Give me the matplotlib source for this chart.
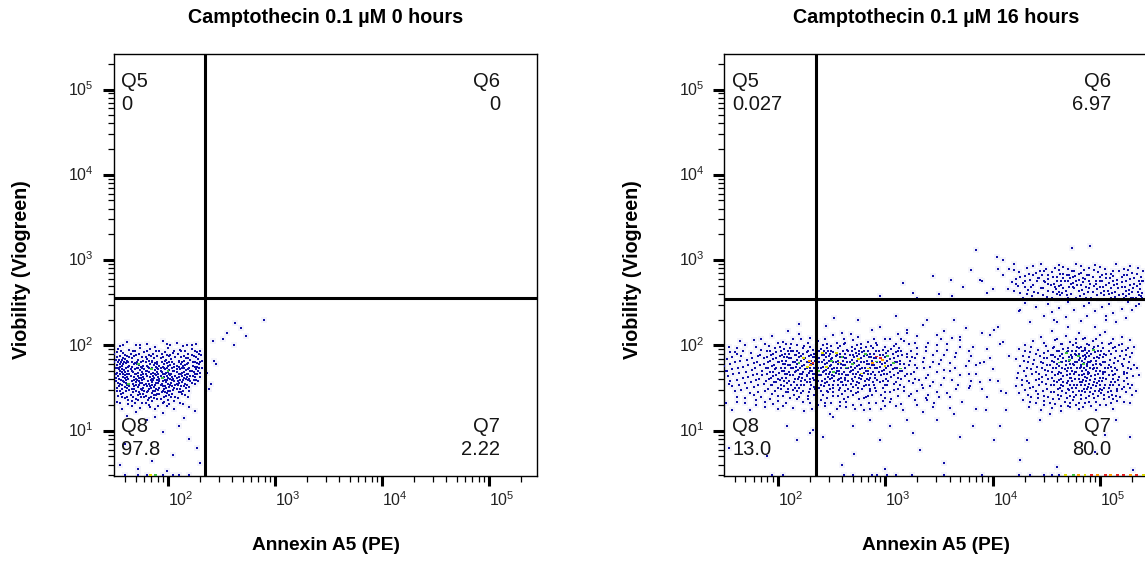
import numpy as np
import matplotlib
matplotlib.use("Agg")
import matplotlib.pyplot as plt
from matplotlib.ticker import FixedLocator, LogLocator, NullFormatter

# ---------------- data (log10 fluorescence intensities) ----------------
titles = ["Camptothecin 0.1 \u00b5M 0 hours", "Camptothecin 0.1 \u00b5M 16 hours"]
x_label = "Annexin A5 (PE)"
y_label = "Viobility (Viogreen)"
quad_names = ["Q5", "Q6", "Q7", "Q8"]
pct_0h = ["0", "0", "2.22", "97.8"]
pct_16h = ["0.027", "6.97", "80.0", "13.0"]
gate_x = [220, 228]          # Annexin A5 gate (0 h, 16 h)
gate_y = [364, 348]          # Viogreen gate (0 h, 16 h)

# 0 hours: (log10 Annexin, log10 Viogreen)
cells_0h = [
 (1.62,2.04),(1.80,2.02),(1.95,2.05),(2.08,2.03),(2.18,2.01),
 (1.55,1.99),(1.70,2.01),(1.88,1.98),(2.02,2.00),(2.14,1.99),(2.26,2.02),
 (1.53,1.96),(1.64,1.95),(1.74,1.97),(1.83,1.96),(1.92,1.94),(2.00,1.97),(2.11,1.95),(2.22,1.96),(2.30,1.94),
 (1.52,1.92),(1.58,1.91),(1.67,1.93),(1.78,1.92),(1.86,1.90),(1.97,1.92),(2.05,1.91),(2.12,1.93),(2.19,1.90),(2.27,1.92),
 (1.55,1.88),(1.62,1.87),(1.70,1.89),(1.76,1.86),(1.84,1.88),(1.90,1.87),(1.99,1.89),(2.07,1.86),(2.15,1.88),(2.24,1.87),(2.31,1.89),
 (1.51,1.83),(1.54,1.83),(1.57,1.83),(1.60,1.84),(1.66,1.85),(1.72,1.83),(1.80,1.84),(1.85,1.82),(1.93,1.85),(1.98,1.83),(2.03,1.84),(2.10,1.82),(2.17,1.85),(2.21,1.83),(2.28,1.84),
 (1.50,1.81),(1.53,1.80),(1.56,1.81),(1.59,1.80),(1.63,1.81),(1.69,1.79),(1.75,1.81),(1.79,1.80),(1.88,1.79),(1.94,1.81),(2.01,1.80),(2.06,1.78),(2.13,1.81),(2.19,1.79),(2.25,1.80),(2.30,1.81),
 (1.52,1.77),(1.58,1.78),(1.64,1.76),(1.68,1.78),(1.73,1.77),(1.77,1.76),(1.83,1.78),(1.87,1.77),(1.92,1.76),(1.96,1.78),(2.02,1.77),(2.08,1.76),(2.12,1.78),(2.16,1.77),(2.23,1.76),(2.29,1.78),
 (1.51,1.74),(1.55,1.75),(1.61,1.73),(1.66,1.75),(1.71,1.74),(1.76,1.73),(1.81,1.75),(1.85,1.74),(1.90,1.73),(1.95,1.75),(1.99,1.74),(2.04,1.73),(2.10,1.75),(2.15,1.74),(2.20,1.73),(2.27,1.75),(2.32,1.74),
 (1.54,1.72),(1.59,1.71),(1.63,1.70),(1.69,1.72),(1.74,1.71),(1.79,1.70),(1.84,1.72),(1.88,1.71),(1.93,1.70),(1.97,1.72),(2.01,1.71),(2.06,1.70),(2.11,1.72),(2.17,1.71),(2.22,1.70),(2.26,1.72),
 (1.52,1.68),(1.57,1.69),(1.62,1.67),(1.67,1.69),(1.72,1.68),(1.77,1.67),(1.82,1.69),(1.86,1.68),(1.91,1.67),(1.94,1.69),(1.98,1.68),(2.03,1.67),(2.08,1.69),(2.13,1.68),(2.18,1.67),(2.24,1.69),(2.30,1.68),
 (1.55,1.66),(1.60,1.65),(1.65,1.64),(1.70,1.66),(1.75,1.65),(1.80,1.64),(1.84,1.66),(1.89,1.65),(1.93,1.64),(1.97,1.66),(2.02,1.65),(2.07,1.64),(2.12,1.66),(2.16,1.65),(2.21,1.64),(2.27,1.66),
 (1.51,1.62),(1.58,1.63),(1.63,1.61),(1.68,1.63),(1.73,1.62),(1.78,1.61),(1.83,1.63),(1.87,1.62),(1.92,1.61),(1.96,1.63),(2.00,1.62),(2.05,1.61),(2.10,1.63),(2.15,1.62),(2.20,1.61),(2.25,1.63),
 (1.56,1.59),(1.61,1.60),(1.66,1.58),(1.71,1.60),(1.76,1.59),(1.81,1.58),(1.86,1.60),(1.90,1.59),(1.95,1.58),(1.99,1.60),(2.04,1.59),(2.09,1.58),(2.14,1.60),(2.19,1.59),(2.28,1.58),
 (1.53,1.56),(1.59,1.57),(1.64,1.55),(1.70,1.57),(1.74,1.56),(1.79,1.55),(1.85,1.57),(1.89,1.56),(1.94,1.55),(1.98,1.57),(2.03,1.56),(2.08,1.55),(2.13,1.57),(2.22,1.56),
 (1.57,1.53),(1.62,1.54),(1.68,1.52),(1.73,1.54),(1.78,1.53),(1.83,1.52),(1.88,1.54),(1.93,1.53),(1.97,1.52),(2.02,1.54),(2.07,1.53),(2.12,1.52),(2.18,1.54),
 (1.52,1.50),(1.60,1.51),(1.66,1.49),(1.72,1.51),(1.77,1.50),(1.82,1.49),(1.87,1.51),(1.92,1.50),(1.96,1.49),(2.01,1.51),(2.06,1.50),(2.11,1.49),(2.20,1.51),
 (1.55,1.47),(1.64,1.48),(1.70,1.46),(1.76,1.48),(1.81,1.47),(1.86,1.46),(1.91,1.48),(1.95,1.47),(2.00,1.46),(2.05,1.48),(2.14,1.47),
 (1.58,1.44),(1.67,1.45),(1.74,1.43),(1.80,1.45),(1.85,1.44),(1.90,1.43),(1.94,1.45),(1.99,1.44),(2.04,1.43),(2.10,1.45),
 (1.53,1.41),(1.62,1.40),(1.72,1.42),(1.79,1.41),(1.84,1.40),(1.89,1.42),(1.98,1.41),(2.07,1.40),(2.16,1.42),
 (1.60,1.38),(1.70,1.37),(1.78,1.39),(1.87,1.38),(1.93,1.37),(2.03,1.39),
 (1.52,1.34),(1.66,1.35),(1.76,1.33),(1.85,1.35),(1.96,1.34),(2.11,1.33),
 (1.63,1.31),(1.82,1.30),(1.91,1.29),(2.01,1.31),
 (1.57,1.26),(1.74,1.27),(1.88,1.25),(2.06,1.26),
 (1.70,1.22),(1.95,1.21),(2.25,1.23),
]
cells_0h_b = [
 (1.58,2.01),(1.74,2.00),(1.99,2.02),(2.22,2.00),
 (1.56,1.94),(1.69,1.93),(1.80,1.94),(1.89,1.93),(2.06,1.94),(2.16,1.93),(2.25,1.94),
 (1.50,1.90),(1.60,1.89),(1.65,1.90),(1.73,1.90),(1.82,1.89),(1.94,1.90),(2.02,1.89),(2.09,1.90),(2.22,1.89),(2.29,1.90),
 (1.52,1.86),(1.58,1.85),(1.64,1.86),(1.68,1.87),(1.79,1.86),(1.87,1.85),(1.95,1.86),(2.01,1.87),(2.12,1.86),(2.19,1.85),(2.26,1.86),
 (1.62,1.82),(1.71,1.81),(1.77,1.82),(1.82,1.82),(1.90,1.81),(1.97,1.82),(2.04,1.81),(2.15,1.82),(2.23,1.81),(2.32,1.82),
 (1.55,1.78),(1.61,1.79),(1.66,1.80),(1.71,1.78),(1.85,1.80),(1.90,1.78),(1.99,1.79),(2.10,1.80),(2.18,1.78),(2.27,1.79),
 (1.57,1.76),(1.63,1.75),(1.75,1.75),(1.80,1.76),(1.89,1.75),(1.93,1.74),(2.00,1.76),(2.06,1.75),(2.14,1.76),(2.25,1.75),
 (1.53,1.73),(1.57,1.72),(1.65,1.72),(1.72,1.73),(1.78,1.72),(1.82,1.73),(1.91,1.72),(1.96,1.73),(2.08,1.72),(2.13,1.73),(2.19,1.72),(2.29,1.73),
 (1.55,1.70),(1.60,1.69),(1.66,1.70),(1.76,1.69),(1.80,1.70),(1.90,1.69),(2.00,1.69),(2.05,1.70),(2.15,1.69),(2.21,1.70),(2.28,1.70),
 (1.51,1.66),(1.58,1.67),(1.64,1.66),(1.69,1.67),(1.79,1.66),(1.88,1.67),(1.95,1.66),(2.01,1.67),(2.10,1.66),(2.19,1.67),(2.25,1.66),
 (1.53,1.64),(1.62,1.63),(1.72,1.64),(1.77,1.63),(1.86,1.64),(1.91,1.63),(1.99,1.64),(2.04,1.63),(2.13,1.64),(2.18,1.63),(2.23,1.64),(2.30,1.63),
 (1.54,1.61),(1.60,1.62),(1.70,1.61),(1.75,1.62),(1.85,1.61),(1.94,1.62),(2.02,1.61),(2.08,1.62),(2.17,1.61),(2.24,1.60),
 (1.51,1.58),(1.58,1.58),(1.68,1.59),(1.73,1.58),(1.84,1.59),(1.92,1.58),(1.97,1.59),(2.06,1.58),(2.11,1.59),(2.21,1.58),(2.26,1.59),
 (1.55,1.55),(1.61,1.56),(1.67,1.55),(1.76,1.56),(1.82,1.55),(1.91,1.56),(2.00,1.55),(2.10,1.56),(2.16,1.55),(2.25,1.55),
 (1.54,1.52),(1.64,1.52),(1.70,1.53),(1.80,1.52),(1.85,1.53),(1.95,1.52),(2.04,1.52),(2.09,1.53),(2.15,1.52),
 (1.57,1.49),(1.62,1.50),(1.68,1.49),(1.75,1.49),(1.84,1.50),(1.89,1.49),(1.98,1.50),(2.08,1.49),(2.17,1.50),
 (1.52,1.46),(1.61,1.46),(1.73,1.45),(1.78,1.46),(1.88,1.46),(1.97,1.45),(2.02,1.46),(2.12,1.45),(2.20,1.46),
 (1.56,1.43),(1.65,1.42),(1.77,1.43),(1.87,1.42),(1.92,1.43),(2.01,1.42),(2.13,1.43),
 (1.57,1.39),(1.67,1.40),(1.75,1.39),(1.82,1.38),(1.96,1.39),(2.09,1.38),(2.19,1.40),
 (1.63,1.36),(1.72,1.36),(1.81,1.36),(1.90,1.37),(2.00,1.36),(2.06,1.35),
 (1.55,1.32),(1.69,1.32),(1.79,1.33),(1.95,1.32),(2.14,1.31),
 (1.66,1.29),(1.83,1.28),(1.99,1.29),(2.20,1.28),
 (1.62,1.17),(1.88,1.16),(2.15,1.15),
]
tail_0h = [(2.63,2.26),(2.90,2.30),(2.73,2.11),(2.51,2.07),(2.62,2.00),(2.43,1.82),(2.40,1.55),
           (2.38,1.49),(2.45,1.78),(2.42,2.05),(2.36,1.68),(2.55,2.15),(2.68,2.20)]
sparse_0h = [(1.80,1.12),(2.10,1.05),(1.95,0.98),(2.20,0.90),(2.27,0.80),(1.60,0.85),(2.05,0.72),
             (1.85,0.65),(2.30,0.62),(1.55,0.60),(1.72,0.55),(1.99,0.53)]
floor_0h = [(1.60,0.48),(1.72,0.48),(1.80,0.48),(1.95,0.48),(2.05,0.48),(2.10,0.48),(2.20,0.48)]
hot_0h = [(1.63,1.55,1),(1.85,1.72,1),(1.95,1.62,1),(1.72,1.78,1),(2.00,1.70,1),(1.84,0.48,2),(1.88,0.48,1)]

# 16 hours
band_16h = [
 (2.45,2.23),(2.95,2.21),(3.35,2.24),(3.75,2.20),(4.05,2.22),
 (2.10,2.17),(2.60,2.15),(2.88,2.18),(3.20,2.14),(3.55,2.17),(3.90,2.15),
 (1.95,2.11),(2.30,2.09),(2.52,2.12),(2.75,2.10),(3.05,2.08),(3.30,2.11),(3.62,2.09),(3.98,2.12),
 (1.78,2.06),(2.05,2.04),(2.22,2.07),(2.38,2.05),(2.55,2.03),(2.70,2.06),(2.84,2.04),(3.00,2.07),(3.18,2.05),(3.40,2.03),(3.70,2.06),(4.10,2.04),
 (1.70,2.01),(1.92,1.99),(2.08,2.02),(2.18,2.00),(2.30,1.98),(2.42,2.01),(2.50,1.99),(2.62,2.02),(2.74,2.00),(2.82,1.98),(2.93,2.01),(3.08,1.99),(3.22,2.02),(3.48,2.00),(3.82,1.98),
 (1.62,1.97),(1.85,1.95),(1.98,1.97),(2.06,1.96),(2.14,1.94),(2.24,1.97),(2.33,1.95),(2.40,1.96),(2.47,1.94),(2.56,1.97),(2.65,1.95),(2.72,1.96),(2.80,1.94),(2.89,1.97),(2.98,1.95),(3.06,1.96),(3.15,1.94),(3.30,1.97),(3.58,1.95),(3.95,1.96),
 (1.56,1.92),(1.75,1.91),(1.90,1.93),(1.99,1.92),(2.07,1.90),(2.13,1.93),(2.20,1.91),(2.27,1.92),(2.34,1.90),(2.39,1.93),(2.45,1.91),(2.52,1.92),(2.58,1.90),(2.66,1.93),(2.73,1.91),(2.79,1.92),(2.86,1.90),(2.92,1.93),(3.01,1.91),(3.10,1.92),(3.20,1.90),(3.38,1.93),(3.66,1.91),
 (1.66,1.88),(1.82,1.87),(1.94,1.89),(2.02,1.88),(2.09,1.86),(2.16,1.89),(2.22,1.87),(2.29,1.88),(2.35,1.86),(2.41,1.89),(2.48,1.87),(2.54,1.88),(2.61,1.86),(2.67,1.89),(2.74,1.87),(2.80,1.88),(2.87,1.86),(2.95,1.89),(3.03,1.87),(3.12,1.88),(3.25,1.86),(3.45,1.89),(3.80,1.87),(4.15,1.88),
 (1.53,1.84),(1.72,1.83),(1.87,1.85),(1.96,1.84),(2.04,1.82),(2.11,1.85),(2.18,1.83),(2.25,1.84),(2.31,1.82),(2.37,1.85),(2.43,1.83),(2.50,1.84),(2.56,1.82),(2.63,1.85),(2.69,1.83),(2.76,1.84),(2.83,1.82),(2.90,1.85),(2.97,1.83),(3.05,1.84),(3.14,1.82),(3.28,1.85),(3.52,1.83),
 (1.60,1.80),(1.78,1.79),(1.91,1.81),(2.00,1.80),(2.07,1.78),(2.14,1.81),(2.20,1.79),(2.27,1.80),(2.33,1.78),(2.39,1.81),(2.46,1.79),(2.52,1.80),(2.59,1.78),(2.65,1.81),(2.71,1.79),(2.78,1.80),(2.85,1.78),(2.93,1.81),(3.00,1.79),(3.09,1.80),(3.18,1.78),(3.35,1.81),(3.60,1.79),(3.92,1.80),
 (1.50,1.76),(1.68,1.75),(1.84,1.77),(1.95,1.76),(2.03,1.74),(2.10,1.77),(2.17,1.75),(2.23,1.76),(2.30,1.74),(2.36,1.77),(2.42,1.75),(2.49,1.76),(2.55,1.74),(2.61,1.77),(2.68,1.75),(2.74,1.76),(2.81,1.74),(2.88,1.77),(2.95,1.75),(3.03,1.76),(3.11,1.74),(3.22,1.77),(3.42,1.75),(3.75,1.76),
 (1.58,1.72),(1.76,1.71),(1.89,1.73),(1.98,1.72),(2.06,1.70),(2.13,1.73),(2.19,1.71),(2.26,1.72),(2.32,1.70),(2.38,1.73),(2.45,1.71),(2.51,1.72),(2.57,1.70),(2.64,1.73),(2.70,1.71),(2.77,1.72),(2.84,1.70),(2.91,1.73),(2.99,1.71),(3.07,1.72),(3.16,1.70),(3.30,1.73),(3.55,1.71),(4.00,1.72),
 (1.64,1.68),(1.81,1.67),(1.93,1.69),(2.01,1.68),(2.09,1.66),(2.16,1.69),(2.23,1.67),(2.29,1.68),(2.35,1.66),(2.42,1.69),(2.48,1.67),(2.54,1.68),(2.60,1.66),(2.67,1.69),(2.73,1.67),(2.80,1.68),(2.87,1.66),(2.94,1.69),(3.02,1.67),(3.12,1.68),(3.24,1.66),(3.48,1.69),(3.85,1.67),
 (1.54,1.64),(1.73,1.63),(1.86,1.65),(1.96,1.64),(2.04,1.62),(2.12,1.65),(2.20,1.63),(2.27,1.64),(2.33,1.62),(2.40,1.65),(2.47,1.63),(2.53,1.64),(2.59,1.62),(2.66,1.65),(2.72,1.63),(2.79,1.64),(2.86,1.62),(2.96,1.65),(3.06,1.63),(3.19,1.64),(3.38,1.62),(3.70,1.65),
 (1.62,1.60),(1.80,1.59),(1.92,1.61),(2.02,1.60),(2.11,1.58),(2.19,1.61),(2.26,1.59),(2.34,1.60),(2.41,1.58),(2.49,1.61),(2.56,1.59),(2.63,1.60),(2.70,1.58),(2.78,1.61),(2.85,1.59),(2.93,1.60),(3.03,1.58),(3.15,1.61),(3.32,1.59),(3.62,1.60),(4.05,1.58),
 (1.70,1.56),(1.87,1.55),(1.99,1.57),(2.09,1.56),(2.18,1.54),(2.27,1.57),(2.36,1.55),(2.44,1.56),(2.52,1.54),(2.60,1.57),(2.68,1.55),(2.76,1.56),(2.85,1.54),(2.95,1.57),(3.08,1.55),(3.26,1.56),(3.52,1.54),(3.88,1.57),
 (1.58,1.52),(1.78,1.51),(1.95,1.53),(2.06,1.52),(2.16,1.50),(2.25,1.53),(2.34,1.51),(2.43,1.52),(2.52,1.50),(2.61,1.53),(2.70,1.51),(2.80,1.52),(2.91,1.50),(3.02,1.53),(3.18,1.51),(3.42,1.52),(3.78,1.50),
 (1.66,1.48),(1.88,1.47),(2.03,1.49),(2.14,1.48),(2.24,1.46),(2.35,1.49),(2.46,1.47),(2.57,1.48),(2.68,1.46),(2.79,1.49),(2.92,1.47),(3.08,1.48),(3.30,1.46),(3.66,1.49),(4.08,1.47),
 (1.74,1.44),(1.95,1.43),(2.10,1.45),(2.22,1.44),(2.34,1.42),(2.47,1.45),(2.60,1.43),(2.73,1.44),(2.88,1.42),(3.05,1.45),(3.24,1.43),(3.58,1.44),
 (1.62,1.40),(1.85,1.39),(2.05,1.41),(2.20,1.40),(2.36,1.38),(2.52,1.41),(2.66,1.39),(2.82,1.40),(3.00,1.38),(3.22,1.41),(3.50,1.39),(3.95,1.40),
 (1.80,1.36),(2.00,1.35),(2.18,1.37),(2.40,1.36),(2.58,1.34),(2.76,1.37),(2.98,1.35),(3.28,1.36),(3.72,1.34),
 (1.70,1.32),(1.96,1.31),(2.30,1.33),(2.50,1.32),(2.70,1.30),(2.92,1.33),(3.15,1.31),(3.46,1.32),
 (1.88,1.28),(2.14,1.27),(2.44,1.29),(2.64,1.28),(2.86,1.26),(3.10,1.29),(3.60,1.27),
 (1.58,1.24),(2.25,1.23),(2.55,1.25),(2.80,1.24),(3.35,1.22),(3.85,1.25),
]
band_16h_b = [
 (2.20,2.13),(2.68,2.13),(3.12,2.13),(3.48,2.12),
 (1.85,2.08),(2.14,2.07),(2.44,2.08),(2.62,2.07),(2.90,2.08),(3.15,2.08),(3.52,2.07),
 (1.88,2.02),(2.00,2.03),(2.13,2.02),(2.28,2.03),(2.46,2.02),(2.63,2.03),(2.78,2.02),(2.92,2.03),(3.10,2.02),(3.28,2.03),(3.58,2.02),
 (1.55,1.98),(1.80,1.98),(2.02,1.98),(2.12,1.97),(2.25,1.99),(2.36,1.98),(2.46,1.97),(2.58,1.99),(2.69,1.98),(2.78,1.97),(2.87,1.99),(3.00,1.98),(3.13,1.97),(3.38,1.98),(3.70,1.98),
 (1.68,1.94),(1.93,1.94),(2.03,1.93),(2.10,1.94),(2.18,1.93),(2.28,1.94),(2.36,1.93),(2.43,1.94),(2.50,1.93),(2.61,1.94),(2.69,1.93),(2.76,1.94),(2.84,1.93),(2.94,1.94),(3.03,1.93),(3.12,1.94),(3.24,1.93),(3.48,1.94),(3.78,1.93),
 (1.62,1.90),(1.84,1.89),(1.96,1.90),(2.04,1.89),(2.11,1.90),(2.17,1.89),(2.24,1.90),(2.31,1.89),(2.37,1.90),(2.43,1.89),(2.49,1.90),(2.55,1.89),(2.63,1.90),(2.70,1.89),(2.76,1.90),(2.83,1.89),(2.90,1.90),(2.98,1.89),(3.07,1.90),(3.16,1.89),(3.30,1.90),(3.55,1.89),
 (1.58,1.86),(1.76,1.85),(1.90,1.86),(1.99,1.85),(2.06,1.86),(2.13,1.85),(2.20,1.86),(2.26,1.85),(2.33,1.86),(2.39,1.85),(2.45,1.86),(2.51,1.85),(2.58,1.86),(2.64,1.85),(2.71,1.86),(2.78,1.85),(2.85,1.86),(2.92,1.85),(3.00,1.86),(3.08,1.85),(3.20,1.86),(3.36,1.85),(3.65,1.86),(3.98,1.85),
 (1.65,1.82),(1.81,1.81),(1.93,1.82),(2.01,1.81),(2.08,1.82),(2.16,1.81),(2.22,1.82),(2.29,1.81),(2.35,1.82),(2.41,1.81),(2.48,1.82),(2.54,1.81),(2.61,1.82),(2.67,1.81),(2.74,1.82),(2.80,1.81),(2.88,1.82),(2.95,1.81),(3.02,1.82),(3.11,1.81),(3.23,1.82),(3.45,1.81),(3.78,1.82),
 (1.56,1.78),(1.73,1.77),(1.87,1.78),(1.97,1.77),(2.05,1.78),(2.12,1.77),(2.18,1.78),(2.25,1.77),(2.31,1.78),(2.37,1.77),(2.44,1.78),(2.50,1.77),(2.56,1.78),(2.63,1.77),(2.69,1.78),(2.76,1.77),(2.83,1.78),(2.90,1.77),(2.97,1.78),(3.06,1.77),(3.14,1.78),(3.28,1.77),(3.50,1.78),(3.85,1.77),
 (1.63,1.74),(1.79,1.73),(1.91,1.74),(1.99,1.73),(2.07,1.74),(2.14,1.73),(2.21,1.74),(2.27,1.73),(2.34,1.74),(2.40,1.73),(2.47,1.74),(2.53,1.73),(2.59,1.74),(2.66,1.73),(2.72,1.74),(2.79,1.73),(2.86,1.74),(2.93,1.73),(3.01,1.74),(3.09,1.73),(3.19,1.74),(3.36,1.73),(3.65,1.74),
 (1.53,1.70),(1.71,1.69),(1.86,1.70),(1.96,1.69),(2.04,1.70),(2.11,1.69),(2.17,1.70),(2.24,1.69),(2.30,1.70),(2.36,1.69),(2.43,1.70),(2.49,1.69),(2.55,1.70),(2.62,1.69),(2.68,1.70),(2.75,1.69),(2.82,1.70),(2.89,1.69),(2.97,1.70),(3.05,1.69),(3.14,1.70),(3.27,1.69),(3.60,1.70),
 (1.59,1.66),(1.77,1.65),(1.90,1.66),(1.99,1.65),(2.07,1.66),(2.14,1.65),(2.21,1.66),(2.27,1.65),(2.33,1.66),(2.39,1.65),(2.45,1.66),(2.51,1.65),(2.57,1.66),(2.64,1.65),(2.70,1.66),(2.77,1.65),(2.84,1.66),(2.91,1.65),(2.99,1.66),(3.08,1.65),(3.20,1.66),(3.40,1.65),(3.78,1.66),
 (1.68,1.62),(1.83,1.61),(1.94,1.62),(2.00,1.61),(2.08,1.62),(2.16,1.61),(2.23,1.62),(2.30,1.61),(2.37,1.62),(2.44,1.61),(2.51,1.62),(2.57,1.61),(2.63,1.62),(2.69,1.61),(2.76,1.62),(2.83,1.61),(2.91,1.62),(3.01,1.61),(3.12,1.62),(3.28,1.61),(3.55,1.62),
 (1.56,1.58),(1.75,1.57),(1.89,1.58),(1.97,1.57),(2.06,1.58),(2.15,1.57),(2.22,1.58),(2.30,1.57),(2.38,1.58),(2.46,1.57),(2.53,1.58),(2.59,1.57),(2.66,1.58),(2.74,1.57),(2.81,1.58),(2.89,1.57),(2.98,1.58),(3.10,1.57),(3.22,1.58),(3.45,1.57),(3.80,1.58),
 (1.64,1.54),(1.82,1.53),(1.94,1.54),(2.03,1.53),(2.13,1.54),(2.22,1.53),(2.31,1.54),(2.40,1.53),(2.48,1.54),(2.56,1.53),(2.64,1.54),(2.73,1.53),(2.82,1.54),(2.90,1.53),(3.00,1.54),(3.14,1.53),(3.34,1.54),(3.68,1.53),
 (1.72,1.50),(1.91,1.49),(2.00,1.50),(2.10,1.49),(2.20,1.50),(2.30,1.49),(2.39,1.50),(2.49,1.49),(2.58,1.50),(2.66,1.49),(2.75,1.50),(2.86,1.49),(2.98,1.50),(3.12,1.49),(3.35,1.50),(3.90,1.49),
 (1.60,1.46),(1.82,1.45),(1.98,1.46),(2.08,1.45),(2.18,1.46),(2.29,1.45),(2.40,1.46),(2.52,1.45),(2.63,1.46),(2.75,1.45),(2.86,1.46),(3.00,1.45),(3.18,1.46),(3.48,1.45),
 (1.78,1.42),(2.00,1.41),(2.15,1.42),(2.28,1.41),(2.42,1.42),(2.56,1.41),(2.70,1.42),(2.84,1.41),(2.96,1.42),(3.12,1.41),(3.40,1.42),
 (1.70,1.38),(1.93,1.37),(2.12,1.38),(2.28,1.37),(2.46,1.38),(2.62,1.37),(2.80,1.38),(3.06,1.37),(3.38,1.38),
 (1.88,1.34),(2.08,1.33),(2.24,1.34),(2.44,1.33),(2.64,1.34),(2.85,1.33),(3.05,1.34),
 (1.80,1.30),(2.05,1.29),(2.38,1.30),(2.58,1.29),(2.78,1.30),(3.00,1.29),(3.30,1.30),
 (2.00,1.26),(2.32,1.25),(2.72,1.26),(2.96,1.25),
]
cluster_16h = [
 (4.70,2.22),(4.95,2.21),
 (4.55,2.17),(4.80,2.15),(5.05,2.16),
 (4.45,2.10),(4.68,2.11),(4.86,2.09),(5.00,2.12),(5.20,2.10),
 (4.38,2.05),(4.58,2.06),(4.72,2.04),(4.84,2.07),(4.93,2.05),(5.10,2.03),(5.28,2.06),
 (4.30,2.00),(4.50,1.99),(4.64,2.02),(4.75,2.00),(4.82,1.98),(4.90,2.01),(4.98,1.99),(5.08,2.02),(5.18,2.00),(5.32,1.98),
 (4.25,1.96),(4.42,1.95),(4.56,1.97),(4.66,1.96),(4.74,1.94),(4.80,1.97),(4.86,1.95),(4.93,1.96),(5.01,1.94),(5.12,1.97),(5.24,1.95),
 (4.35,1.92),(4.48,1.91),(4.60,1.93),(4.69,1.92),(4.77,1.90),(4.83,1.93),(4.88,1.91),(4.95,1.92),(5.04,1.90),(5.15,1.93),(5.30,1.91),
 (4.28,1.88),(4.44,1.87),(4.54,1.89),(4.63,1.88),(4.71,1.86),(4.78,1.89),(4.84,1.87),(4.90,1.88),(4.97,1.86),(5.06,1.89),(5.19,1.87),
 (4.22,1.84),(4.39,1.83),(4.51,1.85),(4.61,1.84),(4.68,1.82),(4.74,1.85),(4.80,1.83),(4.86,1.84),(4.92,1.82),(4.99,1.85),(5.09,1.83),(5.22,1.84),
 (4.33,1.80),(4.47,1.79),(4.57,1.81),(4.65,1.80),(4.72,1.78),(4.79,1.81),(4.85,1.79),(4.91,1.80),(4.96,1.78),(5.03,1.81),(5.13,1.79),(5.27,1.80),
 (4.26,1.76),(4.41,1.75),(4.53,1.77),(4.62,1.76),(4.70,1.74),(4.76,1.77),(4.82,1.75),(4.88,1.76),(4.94,1.74),(5.01,1.77),(5.10,1.75),(5.21,1.76),(5.34,1.74),
 (4.36,1.72),(4.49,1.71),(4.59,1.73),(4.67,1.72),(4.74,1.70),(4.81,1.73),(4.87,1.71),(4.93,1.72),(5.00,1.70),(5.07,1.73),(5.16,1.71),(5.29,1.72),
 (4.24,1.68),(4.43,1.67),(4.55,1.69),(4.64,1.68),(4.72,1.66),(4.78,1.69),(4.85,1.67),(4.90,1.68),(4.98,1.66),(5.05,1.69),(5.14,1.67),(5.25,1.68),
 (4.31,1.64),(4.46,1.63),(4.58,1.65),(4.66,1.64),(4.73,1.62),(4.80,1.65),(4.86,1.63),(4.92,1.64),(5.00,1.62),(5.08,1.65),(5.18,1.63),(5.31,1.64),
 (4.27,1.60),(4.40,1.59),(4.52,1.61),(4.62,1.60),(4.70,1.58),(4.77,1.61),(4.84,1.59),(4.91,1.60),(4.99,1.58),(5.06,1.61),(5.17,1.59),
 (4.34,1.56),(4.50,1.55),(4.60,1.57),(4.69,1.56),(4.76,1.54),(4.83,1.57),(4.90,1.55),(4.97,1.56),(5.05,1.54),(5.14,1.57),(5.26,1.55),
 (4.22,1.52),(4.38,1.51),(4.54,1.53),(4.66,1.52),(4.74,1.50),(4.82,1.53),(4.89,1.51),(4.96,1.52),(5.04,1.50),(5.12,1.53),(5.22,1.51),
 (4.30,1.48),(4.47,1.47),(4.61,1.49),(4.71,1.48),(4.80,1.46),(4.88,1.49),(4.95,1.47),(5.02,1.48),(5.10,1.46),(5.20,1.49),(5.33,1.47),
 (4.25,1.44),(4.42,1.43),(4.57,1.45),(4.68,1.44),(4.78,1.42),(4.86,1.45),(4.93,1.43),(5.01,1.44),(5.11,1.42),(5.24,1.45),
 (4.36,1.40),(4.52,1.39),(4.64,1.41),(4.76,1.40),(4.87,1.38),(4.98,1.41),(5.08,1.39),(5.19,1.40),
 (4.28,1.36),(4.48,1.35),(4.62,1.37),(4.75,1.36),(4.90,1.34),(5.04,1.37),(5.16,1.35),
 (4.40,1.32),(4.58,1.31),(4.72,1.33),(4.86,1.32),(5.00,1.30),(5.28,1.33),
 (4.34,1.28),(4.55,1.27),(4.70,1.29),(4.84,1.28),(5.12,1.26),
 (4.45,1.24),(4.64,1.23),(4.80,1.25),(4.96,1.24),
]
cluster_16h_b = [
 (4.60,2.08),(4.78,2.08),(4.96,2.07),(5.12,2.08),
 (4.48,2.03),(4.65,2.02),(4.78,2.03),(4.88,2.02),(5.02,2.03),(5.20,2.02),
 (4.36,1.98),(4.57,1.98),(4.70,1.97),(4.79,1.98),(4.86,1.97),(4.94,1.98),(5.03,1.97),(5.14,1.98),(5.26,1.97),
 (4.30,1.94),(4.52,1.94),(4.62,1.93),(4.70,1.94),(4.78,1.93),(4.84,1.94),(4.90,1.93),(4.98,1.94),(5.08,1.93),(5.20,1.94),
 (4.40,1.90),(4.56,1.89),(4.65,1.90),(4.73,1.89),(4.80,1.90),(4.86,1.89),(4.92,1.90),(5.00,1.89),(5.10,1.90),(5.24,1.89),
 (4.34,1.86),(4.48,1.85),(4.58,1.86),(4.66,1.85),(4.74,1.86),(4.81,1.85),(4.87,1.86),(4.94,1.85),(5.03,1.86),(5.14,1.85),(5.28,1.86),
 (4.29,1.82),(4.45,1.81),(4.55,1.82),(4.64,1.81),(4.71,1.82),(4.77,1.81),(4.83,1.82),(4.89,1.81),(4.96,1.82),(5.05,1.81),(5.17,1.82),
 (4.38,1.78),(4.51,1.77),(4.60,1.78),(4.68,1.77),(4.75,1.78),(4.82,1.77),(4.88,1.78),(4.93,1.77),(5.00,1.78),(5.08,1.77),(5.20,1.78),(5.32,1.77),
 (4.32,1.74),(4.46,1.73),(4.56,1.74),(4.65,1.73),(4.73,1.74),(4.79,1.73),(4.85,1.74),(4.91,1.73),(4.97,1.74),(5.05,1.73),(5.14,1.74),(5.26,1.73),
 (4.29,1.70),(4.40,1.69),(4.52,1.70),(4.62,1.69),(4.69,1.70),(4.77,1.69),(4.83,1.70),(4.89,1.69),(4.96,1.70),(5.03,1.69),(5.11,1.70),(5.22,1.69),
 (4.37,1.66),(4.50,1.65),(4.61,1.66),(4.69,1.65),(4.76,1.66),(4.83,1.65),(4.89,1.66),(4.95,1.65),(5.03,1.66),(5.12,1.65),(5.22,1.66),(5.36,1.65),
 (4.23,1.62),(4.43,1.61),(4.55,1.62),(4.64,1.61),(4.72,1.62),(4.80,1.61),(4.88,1.62),(4.95,1.61),(5.03,1.62),(5.12,1.61),(5.25,1.62),
 (4.32,1.58),(4.46,1.57),(4.57,1.58),(4.66,1.57),(4.74,1.58),(4.81,1.57),(4.87,1.58),(4.94,1.57),(5.02,1.58),(5.10,1.57),(5.22,1.58),
 (4.27,1.54),(4.43,1.53),(4.57,1.54),(4.64,1.53),(4.72,1.54),(4.79,1.53),(4.86,1.54),(4.93,1.53),(5.00,1.54),(5.09,1.53),(5.18,1.54),(5.30,1.53),
 (4.35,1.50),(4.51,1.49),(4.63,1.50),(4.70,1.49),(4.78,1.50),(4.85,1.49),(4.92,1.50),(5.00,1.49),(5.08,1.50),(5.16,1.49),(5.28,1.50),
 (4.40,1.46),(4.54,1.45),(4.65,1.46),(4.75,1.45),(4.83,1.46),(4.91,1.45),(4.99,1.46),(5.07,1.45),(5.16,1.46),
 (4.33,1.42),(4.48,1.41),(4.61,1.42),(4.72,1.41),(4.82,1.42),(4.90,1.41),(5.04,1.42),(5.15,1.41),(5.30,1.42),
 (4.42,1.38),(4.56,1.37),(4.69,1.38),(4.82,1.37),(4.94,1.38),(5.12,1.37),
 (4.35,1.34),(4.53,1.33),(4.67,1.34),(4.80,1.33),(4.96,1.34),(5.10,1.33),(5.22,1.34),
 (4.48,1.30),(4.64,1.29),(4.78,1.30),(4.92,1.29),(5.06,1.30),
]
upper_16h = [
 (4.20,2.95),(4.45,2.96),(4.62,2.94),(4.78,2.96),(4.95,2.94),(5.15,2.95),
 (4.15,2.90),(4.32,2.91),(4.50,2.89),(4.58,2.91),(4.70,2.90),(4.85,2.88),(4.90,2.91),(5.05,2.89),(5.22,2.90),(5.35,2.91),
 (4.25,2.86),(4.40,2.85),(4.48,2.87),(4.55,2.86),(4.66,2.84),(4.74,2.87),(4.82,2.85),(4.98,2.86),(5.10,2.84),(5.18,2.87),(5.30,2.85),
 (4.10,2.82),(4.30,2.81),(4.38,2.83),(4.46,2.82),(4.60,2.80),(4.69,2.83),(4.77,2.81),(4.88,2.82),(4.93,2.80),(5.02,2.83),(5.12,2.81),(5.25,2.82),(5.38,2.80),
 (4.22,2.78),(4.35,2.77),(4.43,2.79),(4.52,2.78),(4.64,2.76),(4.72,2.79),(4.80,2.77),(4.86,2.78),(4.96,2.76),(5.06,2.79),(5.16,2.77),(5.28,2.78),(5.36,2.76),
 (4.18,2.74),(4.28,2.73),(4.41,2.75),(4.49,2.74),(4.57,2.72),(4.67,2.75),(4.75,2.73),(4.84,2.74),(4.91,2.72),(5.00,2.75),(5.08,2.73),(5.20,2.74),(5.32,2.72),(5.40,2.75),
 (4.24,2.70),(4.36,2.69),(4.54,2.71),(4.62,2.70),(4.71,2.68),(4.79,2.71),(4.87,2.69),(4.94,2.70),(5.03,2.68),(5.13,2.71),(5.23,2.69),(5.34,2.70),
 (4.14,2.66),(4.33,2.65),(4.47,2.67),(4.59,2.66),(4.68,2.64),(4.76,2.67),(4.83,2.65),(4.97,2.66),(5.07,2.64),(5.17,2.67),(5.27,2.65),(5.37,2.66),
 (4.26,2.62),(4.42,2.61),(4.56,2.63),(4.65,2.62),(4.73,2.60),(4.89,2.63),(5.01,2.61),(5.11,2.62),(5.21,2.60),(5.30,2.63),(5.39,2.61),
 (4.37,2.58),(4.51,2.57),(4.63,2.59),(4.81,2.58),(4.92,2.56),(5.04,2.59),(5.14,2.57),(5.24,2.58),(5.33,2.56),(5.38,2.58),
 (4.44,2.54),(4.60,2.53),(4.78,2.55),(4.99,2.54),(5.19,2.53),(5.29,2.55),(5.35,2.53),(5.40,2.54),
 (4.30,2.50),(4.52,2.49),(4.70,2.51),(4.90,2.50),(5.08,2.48),(5.26,2.51),(5.36,2.49),
 (4.40,2.45),(4.62,2.44),(4.85,2.46),(5.02,2.45),(5.20,2.43),(5.33,2.46),
 (4.25,2.40),(4.55,2.39),(4.76,2.41),(4.95,2.40),(5.12,2.38),(5.30,2.41),
 (4.48,2.34),(4.68,2.33),(4.88,2.35),(5.06,2.34),(5.24,2.32),
 (4.35,2.28),(4.60,2.27),(4.82,2.29),(5.15,2.28),
 (3.17,2.73),(3.45,2.81),(3.61,2.77),(3.73,2.69),(3.88,2.77),(3.95,2.61),(3.26,2.61),(3.50,2.60),
 (3.80,2.88),(3.90,2.75),(4.00,2.66),(4.05,2.90),(3.85,3.12),(4.04,3.04),(4.10,3.00),(4.74,3.14),
 (4.91,3.16),(3.30,2.56),(3.62,2.58),(2.95,2.58),
]
upper_16h_b = [
 (4.38,2.93),(4.66,2.92),(4.82,2.93),(5.00,2.92),(5.28,2.93),
 (4.20,2.88),(4.44,2.87),(4.62,2.88),(4.76,2.87),(4.94,2.88),(5.12,2.87),(5.26,2.88),(5.40,2.87),
 (4.34,2.84),(4.52,2.83),(4.63,2.84),(4.71,2.83),(4.80,2.84),(4.90,2.83),(5.06,2.84),(5.22,2.83),(5.34,2.84),
 (4.26,2.80),(4.42,2.79),(4.56,2.80),(4.66,2.79),(4.75,2.80),(4.84,2.79),(5.00,2.80),(5.09,2.79),(5.20,2.80),(5.32,2.79),
 (4.30,2.76),(4.48,2.75),(4.60,2.76),(4.70,2.75),(4.78,2.76),(4.90,2.75),(5.02,2.76),(5.12,2.75),(5.24,2.76),(5.39,2.75),
 (4.22,2.72),(4.38,2.71),(4.52,2.72),(4.64,2.71),(4.73,2.72),(4.82,2.71),(4.96,2.72),(5.06,2.71),(5.16,2.72),(5.28,2.71),(5.37,2.72),
 (4.30,2.68),(4.45,2.67),(4.58,2.68),(4.66,2.67),(4.75,2.68),(4.90,2.67),(5.00,2.68),(5.10,2.67),(5.20,2.68),(5.31,2.67),
 (4.20,2.64),(4.39,2.63),(4.52,2.64),(4.62,2.63),(4.80,2.64),(4.93,2.63),(5.04,2.64),(5.14,2.63),(5.24,2.64),(5.35,2.63),
 (4.32,2.60),(4.47,2.59),(4.60,2.60),(4.69,2.59),(4.85,2.60),(4.97,2.59),(5.08,2.60),(5.18,2.59),(5.27,2.60),(5.36,2.59),
 (4.28,2.56),(4.55,2.55),(4.70,2.56),(4.87,2.55),(5.10,2.56),(5.22,2.55),(5.31,2.56),(5.39,2.55),
]
sparse_16h = [
 (2.09,1.05),(2.30,0.97),(2.49,1.20),(2.71,0.73),(2.86,1.13),(2.95,0.89),(3.05,1.05),(3.20,1.13),
 (3.33,0.77),(3.45,1.28),(3.64,1.20),(3.82,1.05),(4.01,0.89),(4.13,1.24),(4.26,0.66),(4.32,0.89),
 (4.44,1.13),(4.53,1.20),(4.72,1.28),(5.15,1.13),(5.28,0.93),(5.31,0.54),
 (1.62,1.34),(1.74,1.24),(1.52,1.32),(2.33,1.01),(2.42,0.93),(2.18,0.89),(2.52,1.16),(2.70,1.05),
 (3.26,0.97),(3.48,1.13),(3.70,0.93),(3.94,1.24),(4.07,1.05),(3.17,1.24),(3.39,1.36),(3.60,1.40),
 (3.79,1.52),(3.98,1.59),(4.13,1.44),(3.88,1.79),(4.07,2.02),(3.70,2.10),(4.01,2.18),(3.39,2.30),
 (1.55,0.80),(1.90,0.70),(2.60,0.60),(3.00,0.55),(3.55,0.62),(4.60,0.58),(4.95,0.75),(5.05,0.95),
 (1.52,1.70),(1.55,1.55),(1.60,1.92),(1.65,2.05),(2.75,2.30),(3.10,2.35),(2.20,2.25),
 (2.53,2.32),(3.20,2.18),(3.64,2.30),(4.26,2.42),(4.57,2.30),(5.06,2.30),
]
floor_16h = [(1.95,0.48),(2.05,0.48),(2.62,0.48),(2.70,0.48),(2.88,0.48),(2.93,0.48),(3.02,0.48),
             (3.10,0.48),(3.25,0.48),(3.55,0.48),(3.90,0.48),(4.25,0.48),(4.35,0.48),(4.48,0.48),
             (4.55,0.48),(4.62,0.48)]
hot_16h = [(2.31,1.77,3),(2.42,1.91,2),(2.92,1.87,4),(2.55,1.91,2),(2.46,1.75,2),(3.08,1.79,1),
           (2.30,1.82,3),(2.96,1.85,4),(2.98,1.83,3),(2.92,1.81,1),(3.14,1.73,1),(2.78,1.67,2),
           (2.24,1.85,2),(2.60,1.86,1),(2.70,1.78,1),(2.38,1.70,1),(2.85,1.73,2),(2.50,1.82,1),
           (2.33,1.79,4),(2.28,1.75,2),(2.36,1.84,1),(2.58,1.80,2),(2.64,1.74,1),(2.75,1.84,2),
           (2.88,1.79,3),(3.02,1.88,1),(2.52,1.69,1),(2.20,1.79,1),(2.82,1.90,1),(3.00,1.76,2),
           (4.69,1.91,1),(4.94,1.95,1),(4.72,1.83,1),(4.85,1.78,1),(4.80,1.88,1),(4.62,1.80,1),
           (4.68,0.48,2),(4.75,0.48,1),(4.80,0.48,3),(4.86,0.48,2),(4.92,0.48,4),(4.98,0.48,3),
           (5.05,0.48,4),(5.10,0.48,3),(5.16,0.48,4),(5.22,0.48,4),(5.28,0.48,3),(5.34,0.48,4),
           (5.40,0.48,2)]

# ---------------- styling ----------------
plt.rcParams['font.family'] = ['Liberation Sans', 'DejaVu Sans']
plt.rcParams['mathtext.fontset'] = 'custom'
plt.rcParams['mathtext.rm'] = 'Liberation Sans'
plt.rcParams['mathtext.it'] = 'Liberation Sans:italic'
plt.rcParams['mathtext.bf'] = 'Liberation Sans:bold'

W, H = 1145, 562
fig = plt.figure(figsize=(W / 100, H / 100), dpi=100)
fig.patch.set_facecolor('white')

BLUE = '#1010a8'
HALO = '#f4f4fb'
HOT = {1: '#3fbf3f', 2: '#d8d800', 3: '#ff9a00', 4: '#e02020'}
DASH = [(-1.0, -0.6), (1.0, -0.6), (1.0, 0.6), (-1.0, 0.6), (-1.0, -0.6)]

X0, X1 = 113.6, 537.5
Y0, Y1 = 53.6, 476.0
panel_left = [113.6, 724.4]
xlims = [(1.4916, 5.4533), (1.506, 5.449)]
ylim = (0.469, 5.421)

panels = [
    dict(groups=[cells_0h, cells_0h_b, tail_0h, sparse_0h, floor_0h], hot=hot_0h, pct=pct_0h),
    dict(groups=[band_16h, band_16h_b, cluster_16h, cluster_16h_b, upper_16h, upper_16h_b,
                 sparse_16h, floor_16h], hot=hot_16h, pct=pct_16h),
]

for i, p in enumerate(panels):
    l = panel_left[i]
    ax = fig.add_axes([l / W, 1 - Y1 / H, (X1 - X0) / W, (Y1 - Y0) / H])
    ax.set_xscale('log')
    ax.set_yscale('log')
    ax.set_xlim(10 ** xlims[i][0], 10 ** xlims[i][1])
    ax.set_ylim(10 ** ylim[0], 10 ** ylim[1])

    pts = np.array([pt for g in p['groups'] for pt in g])
    xs, ys = 10 ** pts[:, 0], 10 ** pts[:, 1]
    ax.scatter(xs, ys, s=22, marker='s', c=HALO, linewidths=0, zorder=1)
    ax.scatter(xs, ys, s=4.2, marker=DASH, c=BLUE, linewidths=0, zorder=3)
    hot = np.array(p['hot'])
    ax.scatter(10 ** hot[:, 0], 10 ** hot[:, 1], s=4.5, marker=DASH,
               c=[HOT[int(k)] for k in hot[:, 2]], linewidths=0, zorder=3.5)

    # gates
    ax.axvline(gate_x[i], color='black', lw=2.2, zorder=4)
    ax.axhline(gate_y[i], color='black', lw=2.2, zorder=4)

    for sp in ax.spines.values():
        sp.set_linewidth(1.0)
        sp.set_color('black')
    ax.spines['right'].set_visible(i == 0)

    # ticks
    ax.xaxis.set_major_locator(FixedLocator([1e2, 1e3, 1e4, 1e5]))
    ax.yaxis.set_major_locator(FixedLocator([1e1, 1e2, 1e3, 1e4, 1e5]))
    ax.xaxis.set_minor_locator(LogLocator(base=10, subs=np.arange(2, 10), numticks=20))
    ax.yaxis.set_minor_locator(LogLocator(base=10, subs=np.arange(2, 10), numticks=20))
    ax.xaxis.set_minor_formatter(NullFormatter())
    ax.yaxis.set_minor_formatter(NullFormatter())
    ax.set_xticklabels([r'$10^{2}$', r'$10^{3}$', r'$10^{4}$', r'$10^{5}$'])
    ax.set_yticklabels([r'$10^{1}$', r'$10^{2}$', r'$10^{3}$', r'$10^{4}$', r'$10^{5}$'])
    ax.tick_params(axis='x', which='major', direction='out', length=7, width=2.2,
                   pad=3.5, labelsize=11.5, labelcolor='#222222')
    ax.tick_params(axis='x', which='minor', direction='out', length=4.3, width=0.9)
    ax.tick_params(axis='y', which='major', direction='out', length=8.2, width=2.2,
                   pad=6, labelsize=11.5, labelcolor='#222222')
    ax.tick_params(axis='y', which='minor', direction='out', length=4.6, width=0.9)
    ax.tick_params(top=False, right=False, which='both')
    for lab in ax.get_xticklabels():
        lab.set_horizontalalignment('left')
    for lab in ax.get_yticklabels():
        lab.set_verticalalignment('center')

    # quadrant labels
    qfs = 14.5
    tc = '#151515'
    pct = p['pct']
    xl = (121.5 - X0) / (X1 - X0)
    xr = (500.0 - X0) / (X1 - X0)
    ax.text(xl, 0.9216, quad_names[0], transform=ax.transAxes, fontsize=qfs, color=tc, va='baseline', ha='left', zorder=5)
    ax.text(xl, 0.8665, pct[0], transform=ax.transAxes, fontsize=qfs, color=tc, va='baseline', ha='left', zorder=5)
    ax.text(xr, 0.9216, quad_names[1], transform=ax.transAxes, fontsize=qfs, color=tc, va='baseline', ha='right', zorder=5)
    ax.text(xr, 0.8665, pct[1], transform=ax.transAxes, fontsize=qfs, color=tc, va='baseline', ha='right', zorder=5)
    ax.text(xr, 0.1042, quad_names[2], transform=ax.transAxes, fontsize=qfs, color=tc, va='baseline', ha='right', zorder=5)
    ax.text(xr, 0.0497, pct[2], transform=ax.transAxes, fontsize=qfs, color=tc, va='baseline', ha='right', zorder=5)
    ax.text(xl, 0.1042, quad_names[3], transform=ax.transAxes, fontsize=qfs, color=tc, va='baseline', ha='left', zorder=5)
    ax.text(xl, 0.0497, pct[3], transform=ax.transAxes, fontsize=qfs, color=tc, va='baseline', ha='left', zorder=5)

    cx = l + (X1 - X0) / 2
    fig.text(cx / W, 1 - 23 / H, titles[i], ha='center', va='baseline',
             fontsize=14.2, fontweight='bold')
    fig.text(cx / W, 1 - 550 / H, x_label, ha='center', va='baseline',
             fontsize=13.8, fontweight='bold')
    fig.text((l - 92) / W, 1 - 269.5 / H, y_label, ha='center', va='center',
             rotation=90, fontsize=14.2, fontweight='bold')

fig.savefig('out.png', dpi=100, facecolor='white')
